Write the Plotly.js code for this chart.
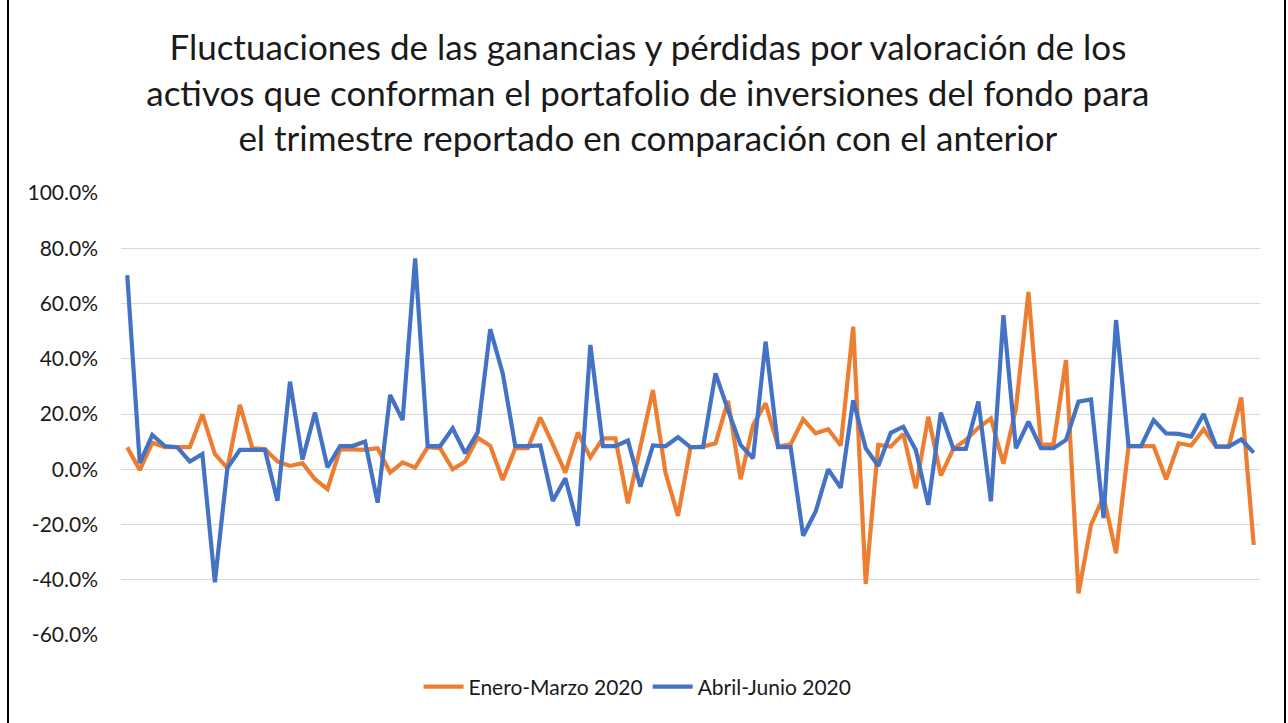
<!DOCTYPE html>
<html>
<head>
<meta charset="utf-8">
<script src="https://cdn.plot.ly/plotly-3.0.1.min.js"></script>
<style>
  html, body { margin: 0; padding: 0; background: #fff; }
  #chart { width: 1288px; height: 723px; }
  #frame { position: absolute; left: 7px; top: -3px; width: 1275px; height: 740px;
           border-left: 2px solid #000; border-right: 2px solid #000; pointer-events: none; }
</style>
</head>
<body>
<div id="chart"></div>
<div id="frame"></div>
<script>
// Category positions (91 reporting entries)
const categories = Array.from({length: 91}, (_, i) => i + 1);

// Enero-Marzo 2020 (percent)
const eneroMarzo = [
  8.0, -0.3, 9.6, 8.0, 8.0, 8.0, 19.9, 5.5, 0.4, 23.3,
  7.6, 7.3, 2.8, 1.2, 2.2, -3.6, -7.2, 7.2, 7.2, 7.0,
  7.6, -1.2, 2.5, 0.6, 8.0, 7.6, 0.0, 2.8, 11.4, 8.5,
  -3.9, 7.6, 7.6, 18.7, 9.0, -1.2, 13.3, 4.3, 11.2, 11.2,
  -12.3, 8.0, 28.7, -1.2, -16.9, 8.0, 8.2, 9.4, 24.8, -3.6,
  16.0, 23.9, 8.2, 9.0, 18.1, 13.0, 14.5, 8.6, 51.6, -41.5,
  8.8, 8.2, 12.8, -6.9, 19.0, -2.3, 7.4, 10.6, 15.0, 18.4,
  2.0, 22.0, 64.2, 8.8, 9.0, 39.5, -44.9, -20.1, -9.9, -30.4,
  8.4, 8.4, 8.4, -3.6, 9.4, 8.6, 14.5, 8.2, 8.2, 26.0,
  -27.4
];

// Abril-Junio 2020 (percent)
const abrilJunio = [
  70.3, 2.2, 12.4, 8.4, 8.0, 2.8, 5.5, -40.9, 0.4, 7.0,
  7.0, 7.0, -11.4, 31.7, 3.5, 20.5, 0.7, 8.4, 8.4, 10.0,
  -12.1, 26.9, 17.8, 76.3, 8.4, 8.4, 14.8, 5.8, 13.4, 50.7,
  34.7, 8.4, 8.4, 8.6, -11.5, -3.3, -20.5, 45.0, 8.4, 8.4,
  10.4, -6.3, 8.6, 8.3, 11.6, 8.0, 8.0, 34.7, 21.4, 8.8,
  4.0, 46.2, 8.0, 8.0, -24.1, -15.3, 0.0, -6.7, 25.0, 7.6,
  1.2, 13.2, 15.4, 7.0, -12.9, 20.5, 7.4, 7.4, 24.5, -11.6,
  55.8, 7.6, 17.2, 7.6, 7.6, 10.6, 24.5, 25.3, -17.7, 54.0,
  8.4, 8.4, 17.8, 13.0, 12.8, 11.8, 20.0, 8.2, 8.2, 10.8,
  6.0
];

const seriesNames = ["Enero-Marzo 2020", "Abril-Junio 2020"];
const yTickVals = [-60, -40, -20, 0, 20, 40, 60, 80, 100];
const yTickText = ["-60.0%", "-40.0%", "-20.0%", "0.0%", "20.0%", "40.0%", "60.0%", "80.0%", "100.0%"];
const titleText = "Fluctuaciones de las ganancias y pérdidas por valoración de los<br>activos que conforman el portafolio de inversiones del fondo para<br>el trimestre reportado en comparación con el anterior";

const FONT = "Lato, 'Liberation Sans', sans-serif";

const traces = [
  {
    x: categories, y: eneroMarzo, name: seriesNames[0], type: "scatter", mode: "lines",
    line: {color: "#ED7D31", width: 4.2, shape: "linear"}
  },
  {
    x: categories, y: abrilJunio, name: seriesNames[1], type: "scatter", mode: "lines",
    line: {color: "#4472C4", width: 4.2, shape: "linear"}
  }
];

const layout = {
  width: 1288, height: 723,
  margin: {l: 121, r: 28, t: 193, b: 88, pad: 0},
  paper_bgcolor: "#ffffff", plot_bgcolor: "#ffffff",
  font: {family: FONT, color: "#1a1a1a"},
  title: {
    text: titleText,
    font: {family: FONT, size: 35, color: "#1a1a1a"},
    xref: "container", x: 0.503, xanchor: "center",
    yref: "container", y: 1 - 60 / 723, yanchor: "top"
  },
  xaxis: {
    range: [0.5, 91.5], showgrid: false, zeroline: false, showline: false,
    showticklabels: false, ticks: ""
  },
  yaxis: {
    range: [-60, 100], tickvals: yTickVals, ticktext: yTickText,
    showgrid: true, gridcolor: "#d9d9d9", gridwidth: 1,
    zeroline: false, showline: false, ticks: "",
    ticklabelstandoff: 22,
    tickfont: {family: FONT, size: 21, color: "#1a1a1a"}
  },
  showlegend: true,
  legend: {
    orientation: "h", xref: "container", yref: "container",
    x: 0.495, xanchor: "center", y: 1 - 687 / 723, yanchor: "middle",
    font: {family: FONT, size: 21, color: "#1a1a1a"},
    itemwidth: 40, tracegroupgap: 0
  }
};

Plotly.newPlot("chart", traces, layout, {staticPlot: true, displayModeBar: false});
</script>
</body>
</html>
